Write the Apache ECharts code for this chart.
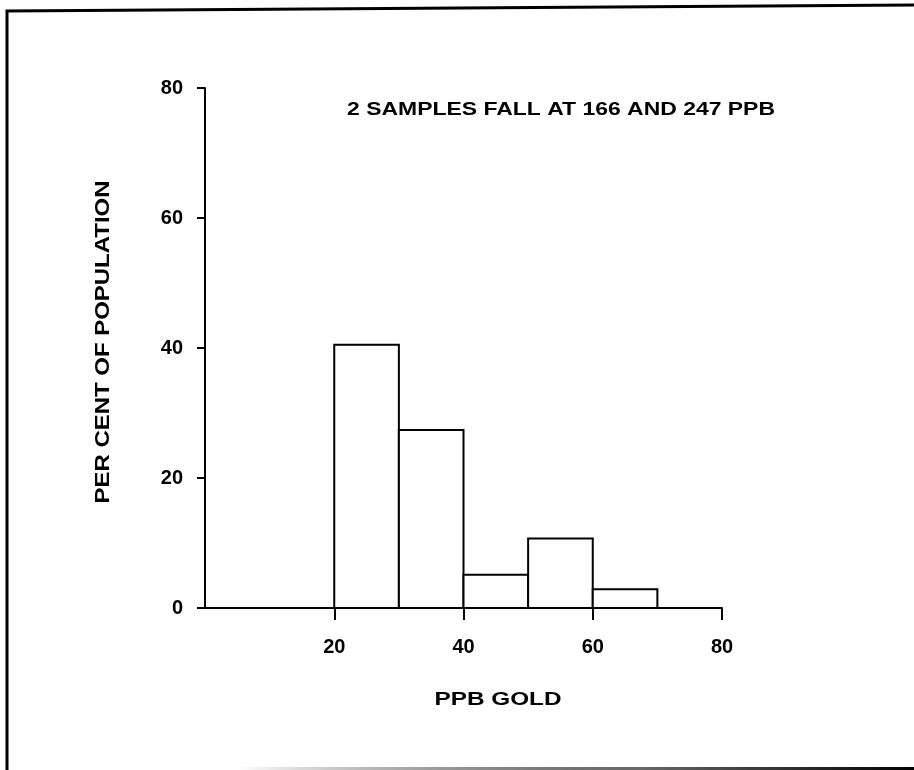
<!DOCTYPE html>
<html>
<head>
<meta charset="utf-8">
<script src="https://cdn.jsdelivr.net/npm/echarts@6/dist/echarts.min.js"></script>
<style>
html,body{margin:0;padding:0;background:#fff;}
#chart{width:914px;height:770px;}
</style>
</head>
<body>
<div id="chart"></div>
<script>
// Histogram bins (PPB gold) and percentages
var binStarts = [20, 30, 40, 50, 60];
var binWidth = 10;
var percents = [40.5, 27.4, 5.1, 10.7, 2.9];
var xTicks = [0, 20, 40, 60, 80];
var yTicks = [0, 20, 40, 60, 80];
var note = '2 SAMPLES FALL AT 166 AND 247 PPB';
var xName = 'PPB GOLD';
var yName = 'PER CENT OF POPULATION';

var data = binStarts.map(function (s, i) { return [s, s + binWidth, percents[i]]; });
var FONT = '"Liberation Sans", Arial, sans-serif';

function stretch(text, font, target) {
  var c = document.createElement('canvas').getContext('2d');
  c.font = font;
  return target / c.measureText(text).width;
}
var noteFont = 'bold 18px ' + FONT;
var xNameFont = 'bold 19px ' + FONT;
var yNameFont = 'bold 20px ' + FONT;

var chart = echarts.init(document.getElementById('chart'));
chart.setOption({
  backgroundColor: '#ffffff',
  animation: false,
  grid: { left: 205, right: 192, top: 88, bottom: 162 },
  xAxis: {
    type: 'value', min: xTicks[0], max: xTicks[xTicks.length - 1], interval: 20,
    splitLine: { show: false },
    axisLine: { lineStyle: { color: '#000', width: 2 } },
    axisTick: { show: true, length: 12, lineStyle: { color: '#000', width: 2 } },
    axisLabel: { showMinLabel: false, color: '#000', fontFamily: FONT, fontWeight: 'bold', fontSize: 20, margin: 29 }
  },
  yAxis: {
    type: 'value', min: yTicks[0], max: yTicks[yTicks.length - 1], interval: 20,
    splitLine: { show: false },
    axisLine: { show: true, lineStyle: { color: '#000', width: 2 } },
    axisTick: { show: true, length: 8, lineStyle: { color: '#000', width: 2 } },
    axisLabel: { color: '#000', fontFamily: FONT, fontWeight: 'bold', fontSize: 20, margin: 22 }
  },
  series: [{
    type: 'custom',
    data: data,
    encode: { x: [0, 1], y: 2 },
    renderItem: function (params, api) {
      var p0 = api.coord([api.value(0), api.value(2)]);
      var p1 = api.coord([api.value(1), 0]);
      return {
        type: 'rect',
        shape: { x: p0[0], y: p0[1], width: p1[0] - p0[0], height: p1[1] - p0[1] },
        style: { fill: '#fff', stroke: '#000', lineWidth: 2 }
      };
    }
  }],
  graphic: [
    { type: 'text', x: 347, y: 110, scaleX: stretch(note, noteFont, 428),
      style: { text: note, fill: '#000', font: noteFont, align: 'left', verticalAlign: 'middle' } },
    { type: 'text', x: 498, y: 700, scaleX: stretch(xName, xNameFont, 127),
      style: { text: xName, fill: '#000', font: xNameFont, align: 'center', verticalAlign: 'middle' } },
    { type: 'text', x: 103, y: 342, rotation: Math.PI / 2, scaleX: stretch(yName, yNameFont, 323),
      style: { text: yName, fill: '#000', font: yNameFont, align: 'center', verticalAlign: 'middle' } },
    { type: 'polyline', shape: { points: [[7, 770], [7, 11], [914, 5]] },
      style: { stroke: '#000', lineWidth: 3, fill: null } },
    { type: 'line', shape: { x1: 240, y1: 768.5, x2: 914, y2: 768.5 },
      style: { stroke: new echarts.graphic.LinearGradient(0, 0, 1, 0, [
        { offset: 0, color: 'rgba(0,0,0,0)' }, { offset: 0.6, color: '#666' }, { offset: 1, color: '#000' }
      ]), lineWidth: 3 } }
  ]
});
</script>
</body>
</html>
